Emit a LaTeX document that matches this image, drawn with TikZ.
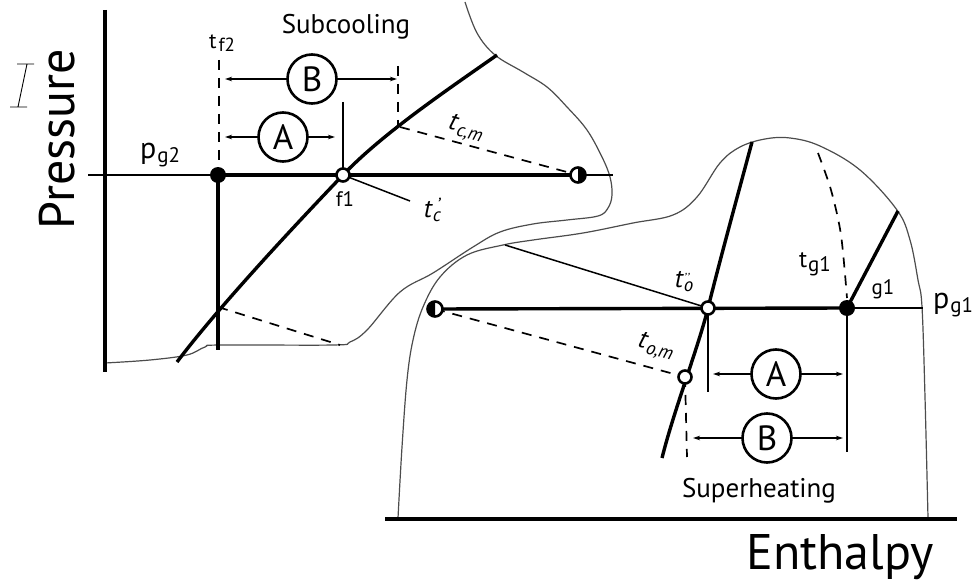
\documentclass[tikz,border=0pt]{standalone}
\usepackage{fontspec}
\setmainfont{PT Sans}
\usetikzlibrary{arrows.meta}
\tikzset{
  thickln/.style={line width=3.4pt},
  axisln/.style={line width=3.6pt},
  thinln/.style={line width=1.8pt},
  satln/.style={line width=1.2pt, black!70},
  dashln/.style={line width=1.7pt, dash pattern=on 10pt off 8pt},
  dimarrow/.style={line width=1.3pt, {Stealth[length=7pt,width=4.5pt]}-{Stealth[length=7pt,width=4.5pt]}},
  fdot/.style={circle, fill=black, inner sep=0pt, minimum size=16pt},
  odot/.style={circle, draw, fill=white, line width=2.6pt, inner sep=0pt, minimum size=13pt},
  hdot/.style={circle, draw, fill=white, line width=2.6pt, inner sep=0pt, minimum size=15pt},
  letcirc/.style={circle, draw, fill=white, line width=2.6pt, inner sep=0pt, minimum size=49pt,
     font=\fontsize{35}{35}\selectfont},
  axlabel/.style={font=\fontsize{50}{50}\selectfont, inner sep=0pt},
  reglabel/.style={font=\fontsize{27}{27}\selectfont, inner sep=0pt},
  smlabel/.style={font=\fontsize{21}{21}\selectfont, inner sep=0pt},
  lbl/.style={inner sep=0pt},
}
\newcommand{\tmain}[1]{{\fontsize{26}{26}\selectfont #1}}
\newcommand{\tsub}[1]{{\fontsize{19}{19}\selectfont\raisebox{-4pt}{#1}}}
\begin{document}
\begin{tikzpicture}[x=1pt,y=-1pt]
\useasboundingbox (0,0) rectangle (977,583);

% ---------- coordinates ----------
% left diagram
\coordinate (axTop) at (105,10);
\coordinate (axBot) at (105,372);
\coordinate (pgTwoStart) at (88,175);
\coordinate (cD2) at (218,175);
\coordinate (cF1) at (343,175);
\coordinate (cHL) at (578,175);
\coordinate (hlEnd) at (613,175);
\coordinate (vBot) at (218,350);
\coordinate (cross) at (218,307);
\coordinate (dashEndL) at (340,345);
\coordinate (tfTop) at (219,60);
\coordinate (tfBot) at (219,162);
\coordinate (fTop) at (343,102);
\coordinate (bTop) at (398,66);
\coordinate (bBot) at (398,128);
\coordinate (arBL) at (225,79);
\coordinate (arBR) at (397,79);
\coordinate (arAL) at (225,137);
\coordinate (arAR) at (335,137);
\coordinate (tcEnd) at (410,201);
\coordinate (tcmStart) at (400,127);
\coordinate (curveBot) at (177,362);
\coordinate (curveTop) at (497,55);
% right diagram
\coordinate (hAxL) at (385,519);
\coordinate (hAxR) at (957,519);
\coordinate (cHR) at (435,309);
\coordinate (cO2) at (708,308);
\coordinate (cOM) at (685,377);
\coordinate (cG1) at (847,308);
\coordinate (pgOneEnd) at (923,308);
\coordinate (toTop) at (752,142);
\coordinate (toBot) at (662,458);
\coordinate (lineStart) at (505,245);
\coordinate (o2Bot) at (708,392);
\coordinate (g1Bot) at (847,452);
\coordinate (omBot) at (687,457);
\coordinate (g1Top) at (898,211);
\coordinate (arAL2) at (713,374);
\coordinate (arAR2) at (843,374);
\coordinate (arBL2) at (693,438);
\coordinate (arBR2) at (843,438);

% ---------- saturation curves ----------
\draw[satln] plot[smooth, tension=0.6] coordinates {
  (465,2) (477,33) (495,55) (523,72) (547,87) (567,107) (587,130) (602,157)
  (610,177) (612,195) (608,208) (598,216) (567,220) (533,224) (500,232)
  (473,247) (433,273) (400,292) (367,330) (350,342) (333,345) (220,345)
  (205,347) (187,355) (150,360) (105,363)};
\draw[satln] plot[smooth, tension=0.6] coordinates {
  (398,518) (402,447) (407,380) (413,340) (423,307) (440,277) (467,255)
  (503,245) (533,240) (583,233) (633,223) (673,215) (697,197) (720,163)
  (740,147) (765,139) (790,138) (820,146) (860,170) (897,210) (910,240)
  (918,280) (922,307) (925,397) (928,518)};

% ---------- axes ----------
\draw[axisln] (axTop) -- (axBot);
\draw[axisln] (hAxL) -- (hAxR);
\node[axlabel, rotate=90] (pressure) at (57,139) {Pressure};
\node[axlabel] (enthalpy) at (840,557) {Enthalpy};

% I-beam mark
\draw[line width=0.9pt] (17,64) -- (34,64) (27,64) -- (18,107) (10,107) -- (27,107);

% ---------- left diagram lines ----------
\draw[thinln] (pgTwoStart) -- (cD2);
\draw[thickln] (cD2) -- (cHL);
\draw[thickln, line width=2.6pt] (cHL) -- (hlEnd);
\draw[thickln] (cD2) -- (vBot);
\draw[thickln] (curveBot) .. controls (220,305) and (300,220) .. (cF1)
               .. controls (383,133) and (450,88) .. (curveTop);
\draw[dashln] (cross) -- (dashEndL);
\draw[dashln] (tfTop) -- (tfBot);
\draw[thinln] (fTop) -- (cF1);
\draw[dashln] (bTop) -- (bBot);
\draw[dashln] (tcmStart) -- (cHL);
\draw[thinln, line width=1.5pt] (cF1) -- (tcEnd);
\draw[dimarrow] (arBL) -- (arBR);
\draw[dimarrow] (arAL) -- (arAR);

% ---------- right diagram lines ----------
\draw[thickln] (cHR) -- (cG1);
\draw[thinln] (cG1) -- (pgOneEnd);
\draw[thickln] (toTop) .. controls (737,198) and (722,252) .. (cO2)
               .. controls (699,345) and (674,410) .. (toBot);
\draw[thinln, line width=1.5pt] (lineStart) -- (cO2);
\draw[thinln] (cO2) -- (o2Bot);
\draw[thinln] (cG1) -- (g1Bot);
\draw[dashln] (cOM) -- (omBot);
\draw[dashln] (cHR) -- (cOM);
\draw[thickln] (cG1) -- (g1Top);
\draw[dashln] plot[smooth] coordinates {(818,153) (831,190) (841,235) (847,298)};
\draw[dimarrow] (arAL2) -- (arAR2);
\draw[dimarrow] (arBL2) -- (arBR2);

% ---------- points ----------
\node[fdot] (D2) at (cD2) {};
\node[odot] (F1) at (cF1) {};
\node[hdot] (HL) at (cHL) {};
\fill (HL.center) ++(0,-6.5) arc[start angle=-90, end angle=90, radius=6.5] -- cycle;
\node[hdot] (HR) at (cHR) {};
\fill (HR.center) ++(0,-6.5) arc[start angle=-90, end angle=-270, radius=6.5] -- cycle;
\node[odot] (O2) at (cO2) {};
\node[odot] (OM) at (cOM) {};
\node[fdot] (G1) at (cG1) {};

% ---------- letter circles ----------
\node[letcirc] (B1) at (312,79) {B};
\node[letcirc] (A1) at (283,137) {A};
\node[letcirc] (A2) at (776,374) {A};
\node[letcirc] (B2) at (767,438) {B};

% ---------- labels ----------
\node[reglabel] (subc) at (346,27) {Subcooling};
\node[reglabel] (superh) at (759,491) {Superheating};
\node[lbl] (pg2) at (160,155) {{\fontsize{30}{30}\selectfont p}\kern1pt{\fontsize{21}{21}\selectfont\raisebox{-4pt}{g2}}};
\node[lbl] (pg1) at (953,305) {{\fontsize{30}{30}\selectfont p}\kern1pt{\fontsize{21}{21}\selectfont\raisebox{-4pt}{g1}}};
\node[lbl] (tf2) at (222,43) {{\fontsize{22}{22}\selectfont t}\kern2pt{\fontsize{19}{19}\selectfont\raisebox{-3pt}{f2}}};
\node[lbl] (tg1) at (815,264) {{\fontsize{24}{24}\selectfont t}\kern1pt{\fontsize{21}{21}\selectfont\raisebox{-4pt}{g1}}};
\node[smlabel] (f1lbl) at (345,199) {f1};
\node[smlabel] (g1lbl) at (883,289) {g1};
\node[lbl, rotate=-15] (tcm) at (466,129) {\itshape\tmain{t}\kern1pt\tsub{c,m}};
\node[lbl, rotate=-15] (tom) at (656,347) {\itshape\tmain{t}\kern1pt\tsub{o,m}};
\node[lbl] (tc) at (432,210) {\itshape\tmain{t}\kern1pt\tsub{c\kern-0.22em\raisebox{0.5em}{'}}};
\node[lbl] (to) at (682,282) {\itshape\tmain{t}\kern1pt\tsub{o\kern-0.5em\raisebox{0.5em}{\fontsize{13}{13}\selectfont '\kern0.5pt'}}};
\end{tikzpicture}
\end{document}
